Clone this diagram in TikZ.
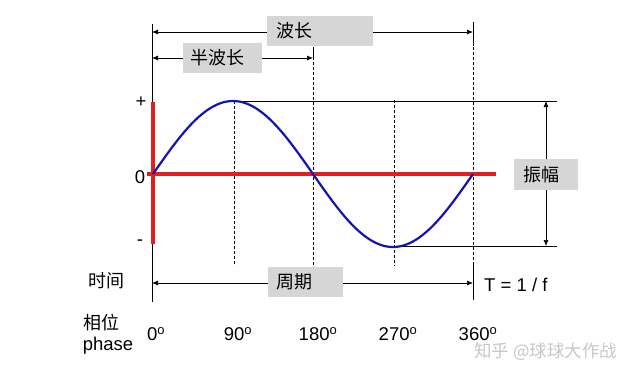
\documentclass[tikz,border=0pt]{standalone}
\usepackage{fontspec}
\setmainfont{Liberation Sans}
\newfontfamily\cjk{Noto Sans CJK SC}
\usetikzlibrary{arrows.meta}
\definecolor{boxgray}{HTML}{D6D6D6}
\definecolor{wavered}{HTML}{E02020}
\definecolor{waveblue}{HTML}{1414B4}
\begin{document}
\begin{tikzpicture}[x=1pt,y=-1pt,
  lab/.style={font=\fontsize{18.5}{20}\selectfont, inner sep=0pt},
  cjklab/.style={font=\cjk\fontsize{18}{20}\selectfont, inner sep=0pt},
  graybox/.style={fill=boxgray, minimum height=30pt, inner sep=0pt},
  dimln/.style={line width=0.7pt, {Latex[length=6pt,width=5pt]}-{Latex[length=6pt,width=5pt]}},
  thinln/.style={line width=0.6pt},
  dashln/.style={line width=0.6pt, dash pattern=on 3pt off 2pt}]
\useasboundingbox (0,0) rectangle (640,375);
% coordinates
\coordinate (axtop) at (152,24);
\coordinate (axbot) at (152,302);
\coordinate (wlL) at (152,32); \coordinate (wlR) at (473,32);
\coordinate (hwL) at (152,58); \coordinate (hwR) at (313,58);
\coordinate (pdL) at (152,283); \coordinate (pdR) at (473,283);
% axis line
\draw[thinln] (axtop) -- (axbot);
% dashed verticals
\coordinate (d90t) at (234,101); \coordinate (d90b) at (234,266);
\coordinate (d180t) at (313,47); \coordinate (d180b) at (313,268);
\coordinate (d270t) at (394,100); \coordinate (d270b) at (394,266);
\coordinate (d360t) at (473,22); \coordinate (d360m) at (473,262); \coordinate (d360b) at (473,300);
\draw[dashln] (d90t) -- (d90b);
\draw[dashln] (d180t) -- (d180b);
\draw[dashln] (d270t) -- (d270b);
\draw[dashln] (d360t) -- (d360m);
\draw[thinln] (d360t) -- (473,46);
\draw[thinln] (d360m) -- (d360b);
\draw[thinln] (d180t) -- (313,60);
% wavelength arrows
\draw[dimln] (wlL) -- (wlR);
\node[graybox, minimum width=106pt] (wlbox) at (320,31) {};
\node[cjklab, anchor=west] (wltxt) at (276,31) {波长};
\draw[dimln] (hwL) -- (hwR);
\node[graybox, minimum width=79pt] (hwbox) at (222.5,58) {};
\node[cjklab, anchor=west] (hwtxt) at (190,58) {半波长};
% amplitude guides
\coordinate (peak) at (234,101); \coordinate (peakR) at (557,101);
\coordinate (trough) at (394,246); \coordinate (troughR) at (557,246);
\draw[thinln] (peak) -- (peakR);
\draw[thinln] (trough) -- (troughR);
\coordinate (amT) at (546,101); \coordinate (amB) at (546,246);
\draw[dimln] (amT) -- (amB);
\node[graybox, minimum width=64pt, minimum height=31pt] (ambox) at (546,174.5) {};
\node[cjklab] (amtxt) at (541,175) {振幅};
% red axes
\coordinate (rvT) at (153,102); \coordinate (rvB) at (153,244);
\coordinate (rhL) at (147,174); \coordinate (rhR) at (496,174);
\draw[wavered, line width=3.2pt] (rvT) -- (rvB);
\draw[wavered, line width=3.2pt] (rhL) -- (rhR);
% sine
\draw[waveblue, line width=2.2pt] plot[domain=0:360, samples=120, smooth] ({153+0.888889*\x},{174-73*sin(\x)});
% y labels
\node[lab] (plus) at (141,102) {+};
\node[lab] (zero) at (140,177) {0};
\node[lab] (minus) at (140,243) {-};
% period
\draw[dimln] (pdL) -- (pdR);
\node[graybox, minimum width=75pt] (pdbox) at (305.5,282) {};
\node[cjklab, anchor=west] (pdtxt) at (276,282) {周期};
\node[cjklab] (time) at (106,281) {时间};
\node[lab, anchor=west] (tf) at (484,285) {T = 1 / f};
% phase
\node[cjklab] (phzh) at (101,323) {相位};
\node[lab] (phen) at (108,346) {phase};
\node[lab] (p0) at (156,334) {0$^{\mathrm{o}}$};
\node[lab] (p90) at (238,334) {90$^{\mathrm{o}}$};
\node[lab] (p180) at (318,334) {180$^{\mathrm{o}}$};
\node[lab] (p270) at (398,334) {270$^{\mathrm{o}}$};
\node[lab] (p360) at (478,334) {360$^{\mathrm{o}}$};
% watermark
\node[font=\cjk\fontsize{17.5}{19}\selectfont, text=black!22, inner sep=0pt, anchor=west] (wm) at (474,352) {知乎 @球球大作战};
\end{tikzpicture}
\end{document}
